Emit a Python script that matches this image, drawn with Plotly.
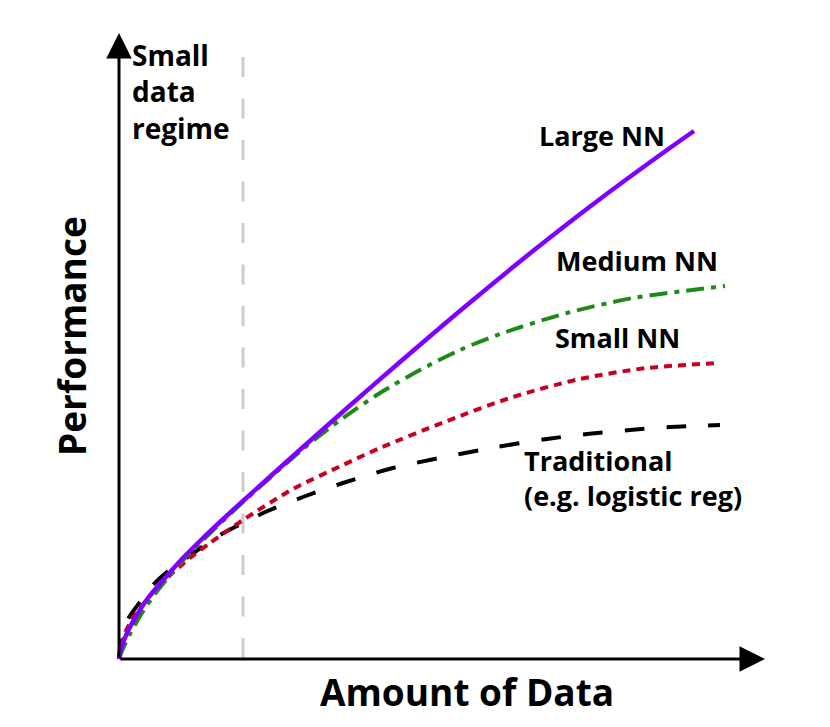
import plotly.graph_objects as go

# curves (x = amount of data, y = performance, arbitrary units)
large_x = [0, 1, 3, 6, 9, 16, 29, 46, 63, 81, 114, 124, 174, 227, 281, 348, 414, 481, 548, 575]
large_y = [0, 6, 13, 21, 28, 41, 61, 81, 100, 118, 149, 158, 203, 250, 297, 354, 408, 460, 509, 528]

medium_x = [0, 3, 11, 23, 36, 53, 69, 81, 124, 184, 224, 261, 301, 341, 381, 448, 514, 581, 606]
medium_y = [0, 8, 25, 46, 65, 86, 104, 116, 157, 210, 241, 266, 289, 309, 325, 346, 361, 370, 373]

small_x = [0, 3, 6, 16, 31, 48, 71, 91, 124, 174, 224, 261, 328, 394, 461, 528, 601]
small_y = [0, 14, 26, 44, 63, 81, 101, 116, 139, 170, 194, 211, 238, 262, 280, 291, 296]

trad_x = [0, 1, 3, 5, 9, 21, 34, 48, 76, 86, 101, 124, 151, 184, 224, 274, 378, 428, 468, 511, 551, 601]
trad_y = [0, 10, 22, 30, 40, 57, 74, 87, 107, 114, 124, 136, 149, 162, 176, 191, 212, 220, 225, 229, 232, 234]

# where the "small data regime" ends
regime_x = 124
regime_top = 602

# end of the axis arrows
x_end = 646
y_end = 626

fig = go.Figure()

def add_curve(x, y, color, dash, width=4):
    fig.add_trace(go.Scatter(
        x=x, y=y,
        mode='lines',
        line=dict(color=color, width=width, dash=dash, shape='spline', smoothing=0.8),
        hoverinfo='skip',
        showlegend=False,
    ))

add_curve(trad_x, trad_y, '#000000', '20px,22px')
add_curve(small_x, small_y, '#c8001e', '8px,6px')
add_curve(medium_x, medium_y, '#1f8a1a', '18px,7px,5px,7px')
add_curve(large_x, large_y, '#8000ff', 'solid', 4.5)

# dashed line for the small data regime
fig.add_shape(type='line', x0=regime_x, x1=regime_x, y0=regime_top, y1=0,
              line=dict(color='#cccccc', width=3, dash='20px,21.5px'), layer='below')

# axes drawn as arrows
for tip_x, tip_y in [(x_end, 0), (0, y_end)]:
    fig.add_annotation(x=tip_x, y=tip_y, ax=0, ay=0, axref='x', ayref='y',
                       text='', showarrow=True, arrowhead=2, arrowsize=1.7,
                       arrowwidth=3, arrowcolor='black', standoff=0)

label_font = dict(family='Open Sans', size=27, color='black', weight='bold')

fig.add_annotation(x=11, y=568, text='Small<br>data<br>regime', showarrow=False,
                   xanchor='left', yanchor='middle', align='left',
                   font=dict(family='Open Sans', size=28, color='black', weight='bold'))
fig.add_annotation(x=418, y=524, text='Large NN', showarrow=False,
                   xanchor='left', yanchor='middle', font=label_font)
fig.add_annotation(x=435, y=399, text='Medium NN', showarrow=False,
                   xanchor='left', yanchor='middle', font=label_font)
fig.add_annotation(x=434, y=322, text='Small NN', showarrow=False,
                   xanchor='left', yanchor='middle', font=label_font)
fig.add_annotation(x=403, y=181, text='Traditional<br>(e.g. logistic reg)', showarrow=False,
                   xanchor='left', yanchor='middle', align='left', font=label_font)

axis_font = dict(family='Open Sans', size=37, color='black', weight='bold')
fig.add_annotation(x=348, y=-32, text='Amount of Data', showarrow=False,
                   xanchor='center', yanchor='middle', font=axis_font)
fig.add_annotation(x=-48, y=323, text='Performance', showarrow=False, textangle=-90,
                   xanchor='center', yanchor='middle', font=axis_font)

# the page body has an 8px margin, so the figure is a bit smaller than the window
fig.update_xaxes(range=[-111, 711], visible=False, fixedrange=True)
fig.update_yaxes(range=[-68, 651], visible=False, fixedrange=True)
fig.update_layout(
    width=822, height=719,
    margin=dict(l=0, r=0, t=0, b=0),
    paper_bgcolor='white',
    plot_bgcolor='white',
    showlegend=False,
)

fig.write_html('out.html')
